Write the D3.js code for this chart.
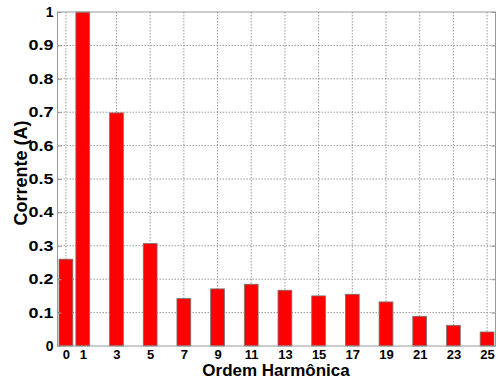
<!DOCTYPE html>
<html lang="en">
<head>
    <meta charset="UTF-8">
    <title>Ordem Harmônica</title>
    <script src="https://d3js.org/d3.v7.min.js"></script>
    <style>
        body { margin: 0; background: #fff; }
        text { font-family: Arial, "Liberation Sans", sans-serif; font-weight: bold; fill: #000; }
    </style>
</head>
<body>
    <div id="chart"></div>
    <script>
        // harmonic orders and measured current (A)
        const orders = [0, 1, 3, 5, 7, 9, 11, 13, 15, 17, 19, 21, 23, 25];
        const current = [0.26, 1.0, 0.698, 0.307, 0.142, 0.171, 0.185, 0.167, 0.150, 0.155, 0.132, 0.089, 0.062, 0.042];
        const yTicks = [0, 0.1, 0.2, 0.3, 0.4, 0.5, 0.6, 0.7, 0.8, 0.9, 1];

        const W = 503, H = 380;
        const plot = { left: 57.5, right: 495.5, top: 12, bottom: 346 };

        const svg = d3.select("#chart").append("svg")
            .attr("width", W)
            .attr("height", H);

        const x = d3.scaleLinear().domain([-0.5, 25.5]).range([plot.left, plot.right]);
        const y = d3.scaleLinear().domain([0, 1]).range([plot.bottom, plot.top]);
        const barW = x(0.82) - x(0);

        // grid
        svg.append("g")
            .selectAll("line")
            .data(orders)
            .join("line")
            .attr("x1", d => x(d)).attr("x2", d => x(d))
            .attr("y1", plot.top).attr("y2", plot.bottom)
            .attr("stroke", "#999")
            .attr("stroke-dasharray", "1.5,1.5");

        svg.append("g")
            .selectAll("line")
            .data(yTicks.slice(1, -1))
            .join("line")
            .attr("x1", plot.left).attr("x2", plot.right)
            .attr("y1", d => y(d)).attr("y2", d => y(d))
            .attr("stroke", "#999")
            .attr("stroke-dasharray", "1.5,1.5");

        // bars
        svg.append("g")
            .selectAll("rect")
            .data(orders)
            .join("rect")
            .attr("x", (d, i) => x(d) - barW / 2)
            .attr("y", (d, i) => y(current[i]))
            .attr("width", barW)
            .attr("height", (d, i) => y(0) - y(current[i]))
            .attr("fill", "#ff0000")
            .attr("stroke", "#777")
            .attr("stroke-width", 0.8);

        // frame
        svg.append("rect")
            .attr("x", plot.left).attr("y", plot.top)
            .attr("width", plot.right - plot.left).attr("height", plot.bottom - plot.top)
            .attr("fill", "none")
            .attr("stroke", "#999");

        // axes with inward ticks
        const yAxis = svg.append("g")
            .attr("transform", "translate(" + plot.left + ",0)")
            .call(d3.axisLeft(y).tickValues(yTicks).tickSize(-4).tickPadding(4)
                .tickFormat(d => d === 0 || d === 1 ? d3.format("d")(d) : d3.format(".1f")(d)));
        yAxis.select(".domain").remove();
        yAxis.selectAll("line").attr("stroke", "#999");
        yAxis.selectAll("text").style("font-size", "14px");
        // decimal labels are stretched wider in the original
        yAxis.selectAll("text")
            .filter(d => d !== 0 && d !== 1)
            .attr("textLength", 25)
            .attr("lengthAdjust", "spacingAndGlyphs");

        const yAxisR = svg.append("g")
            .attr("transform", "translate(" + plot.right + ",0)")
            .call(d3.axisRight(y).tickValues(yTicks).tickSize(-4).tickFormat(""));
        yAxisR.select(".domain").remove();
        yAxisR.selectAll("line").attr("stroke", "#999");

        const xAxis = svg.append("g")
            .attr("transform", "translate(0," + plot.bottom + ")")
            .call(d3.axisBottom(x).tickValues(orders).tickSize(0).tickPadding(4).tickFormat(d3.format("d")));
        xAxis.select(".domain").remove();
        xAxis.selectAll("text").style("font-size", "13px");

        // axis titles
        svg.append("text")
            .attr("x", 276)
            .attr("y", 376)
            .attr("text-anchor", "middle")
            .style("font-size", "17px")
            .text("Ordem Harmônica");

        svg.append("text")
            .attr("transform", "translate(27,173) rotate(-90)")
            .attr("text-anchor", "middle")
            .style("font-size", "18px")
            .text("Corrente (A)");
    </script>
</body>
</html>
